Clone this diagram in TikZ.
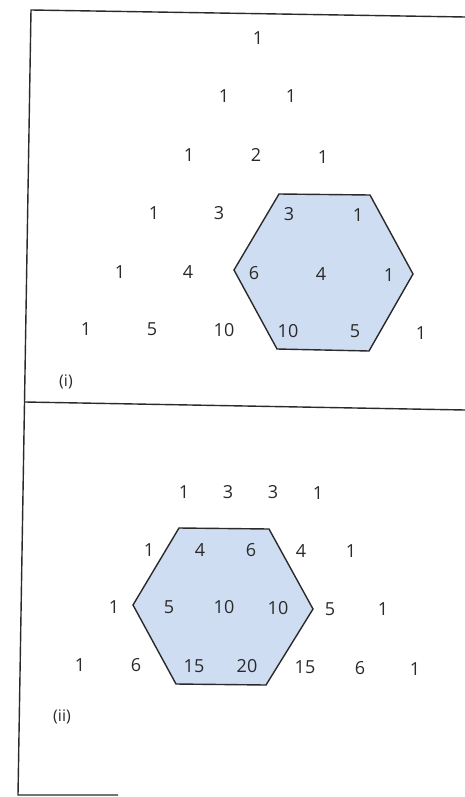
\documentclass[tikz,border=0pt]{standalone}
\usepackage{fontspec}
\setmainfont{Open Sans}
\definecolor{hexblue}{HTML}{CFDDF3}
\definecolor{ink}{HTML}{2A2A2A}
\begin{document}
\begin{tikzpicture}[x=1pt,y=-1pt,
  num/.style={text=ink, font=\fontsize{18}{20}\selectfont, inner sep=0pt, text depth=0pt},
  lab/.style={text=ink, font=\fontsize{16}{18}\selectfont, inner sep=0pt},
  hex/.style={draw=ink, line width=1.4pt, fill=hexblue, line join=miter},
  frame/.style={draw=ink, line width=1.4pt}]
\useasboundingbox (0,0) rectangle (465,797);
% frame
\coordinate (f1) at (31,10);
\coordinate (f2) at (465,17);
\coordinate (f3) at (18,795);
\coordinate (f4) at (118,795);
\coordinate (m1) at (25,402);
\coordinate (m2) at (465,410);
\draw[frame] (f2) -- (f1) -- (f3) -- (f4);
\draw[frame] (m1) -- (m2);
% hexagon (i)
\coordinate (h1a) at (279,194);
\coordinate (h1b) at (370,195);
\coordinate (h1c) at (413,274);
\coordinate (h1d) at (369,351);
\coordinate (h1e) at (277,349);
\coordinate (h1f) at (234,270);
\draw[hex] (h1a) -- (h1b) -- (h1c) -- (h1d) -- (h1e) -- (h1f) -- cycle;
% hexagon (ii)
\coordinate (h2a) at (179,528);
\coordinate (h2b) at (269,529);
\coordinate (h2c) at (313,609);
\coordinate (h2d) at (266,685);
\coordinate (h2e) at (176,684);
\coordinate (h2f) at (133,605);
\draw[hex] (h2a) -- (h2b) -- (h2c) -- (h2d) -- (h2e) -- (h2f) -- cycle;
% triangle (i)
\node[num] (t00) at (258,38) {1};
\node[num] (t10) at (224,96) {1};
\node[num] (t11) at (291,96) {1};
\node[num] (t20) at (189,155) {1};
\node[num] (t21) at (256,155) {2};
\node[num] (t22) at (323,157) {1};
\node[num] (t30) at (154,213) {1};
\node[num] (t31) at (219,213) {3};
\node[num] (t32) at (289,214) {3};
\node[num] (t33) at (358,215) {1};
\node[num] (t40) at (120,272) {1};
\node[num] (t41) at (188,272) {4};
\node[num] (t42) at (254,273) {6};
\node[num] (t43) at (321,274) {4};
\node[num] (t44) at (389,275) {1};
\node[num] (t50) at (86,329) {1};
\node[num] (t51) at (152,329) {5};
\node[num] (t52) at (224,330) {10};
\node[num] (t53) at (288,331) {10};
\node[num] (t54) at (355,331) {5};
\node[num] (t55) at (421,333) {1};
\node[lab] (li) at (66,382) {(i)};
% triangle (ii)
\node[num] (b30) at (184,492) {1};
\node[num] (b31) at (228,492) {3};
\node[num] (b32) at (273,492) {3};
\node[num] (b33) at (318,493) {1};
\node[num] (b40) at (149,550) {1};
\node[num] (b41) at (200,550) {4};
\node[num] (b42) at (251,550) {6};
\node[num] (b43) at (301,551) {4};
\node[num] (b44) at (351,551) {1};
\node[num] (b50) at (114,607) {1};
\node[num] (b51) at (169,607) {5};
\node[num] (b52) at (224,607) {10};
\node[num] (b53) at (278,608) {10};
\node[num] (b54) at (330,609) {5};
\node[num] (b55) at (383,609) {1};
\node[num] (b60) at (80,665) {1};
\node[num] (b61) at (136,665) {6};
\node[num] (b62) at (194,666) {15};
\node[num] (b63) at (247,666) {20};
\node[num] (b64) at (305,667) {15};
\node[num] (b65) at (360,668) {6};
\node[num] (b66) at (415,669) {1};
\node[lab] (lii) at (62,717) {(ii)};
\end{tikzpicture}
\end{document}
